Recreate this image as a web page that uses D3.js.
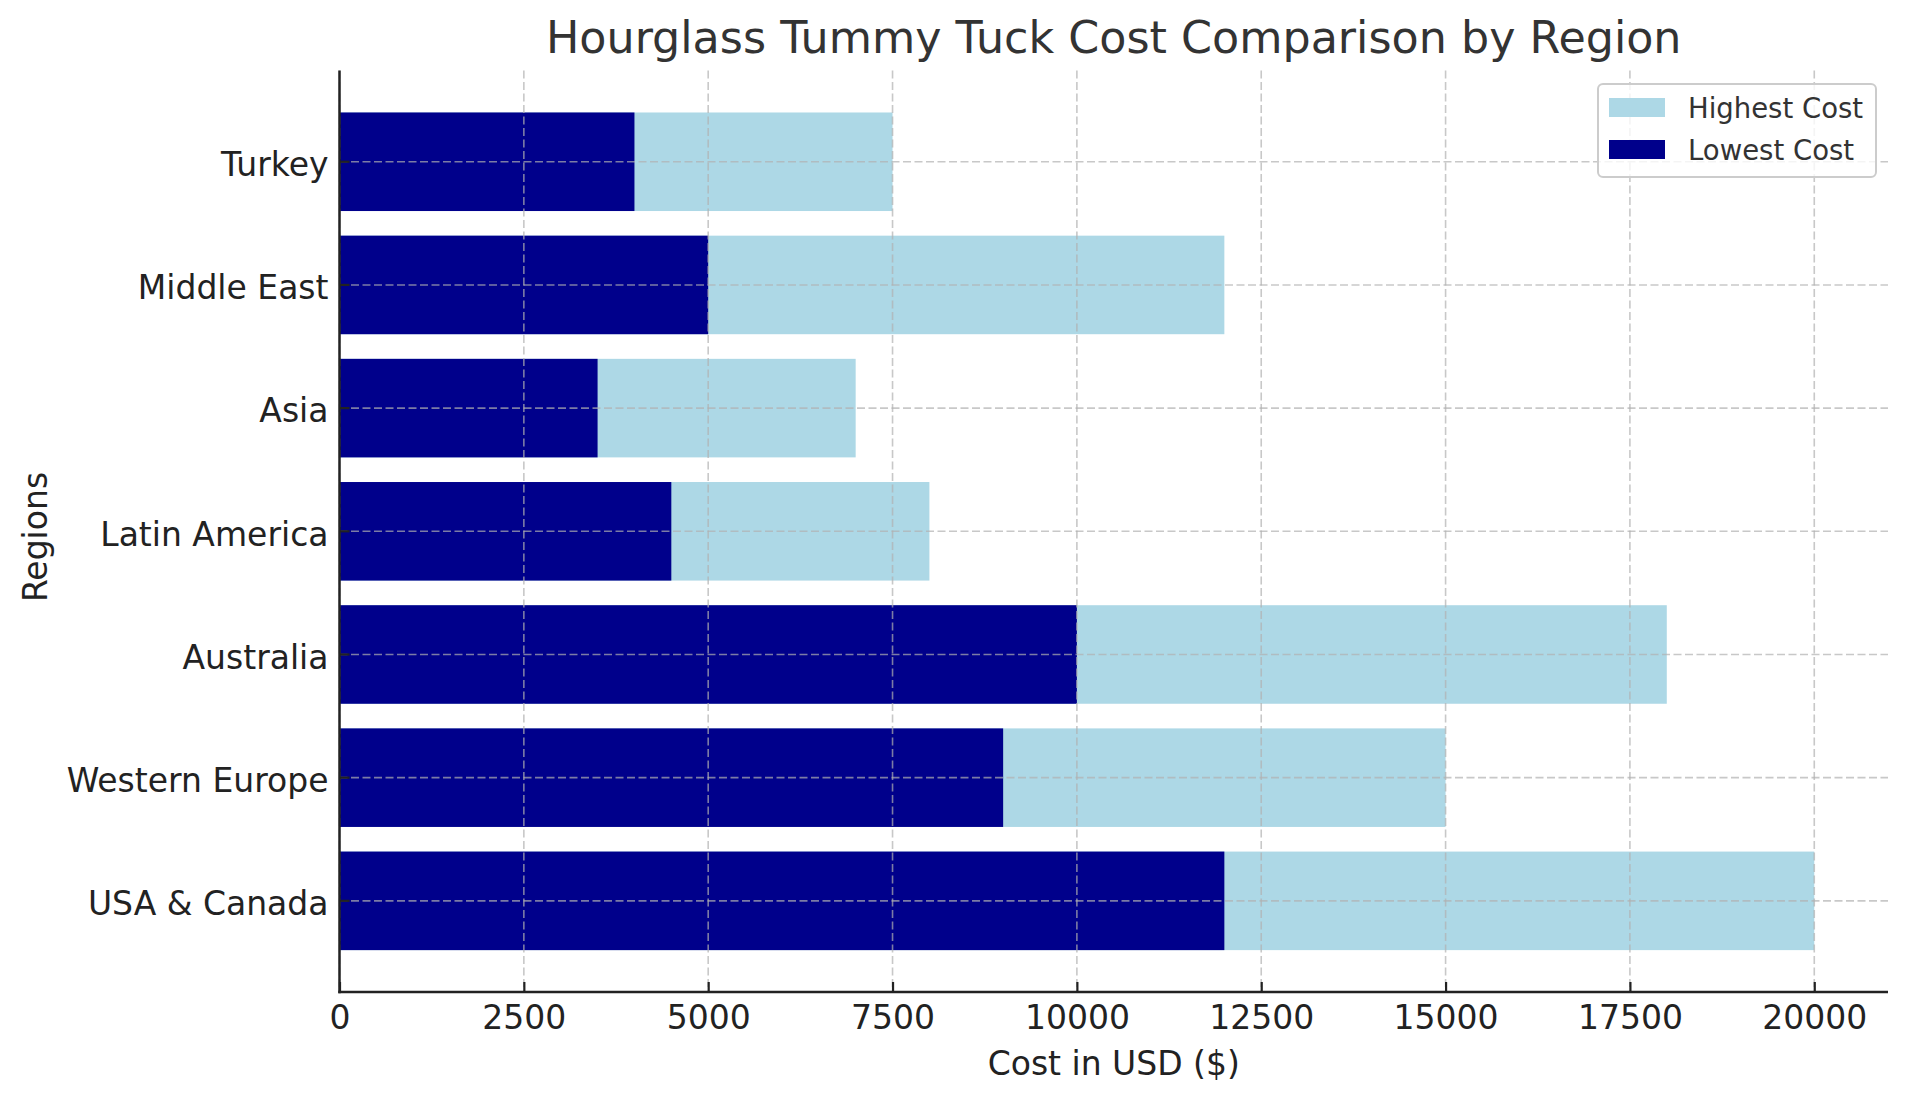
<html>
<head>
<style>
  body { margin: 0; background: #fff; }
  text { font-family: "DejaVu Sans", sans-serif; }
</style>
</head>
<body>
<svg id="chart" width="1908" height="1101"></svg>
<script src="https://cdn.jsdelivr.net/npm/d3@7"></script>
<script>
// data, bottom to top as plotted
const regions = ["USA & Canada", "Western Europe", "Australia", "Latin America", "Asia", "Middle East", "Turkey"]
const lowestCost = [12000, 9000, 10000, 4500, 3500, 5000, 4000]
const highestCost = [20000, 15000, 18000, 8000, 7000, 12000, 7500]
const xTicks = [0, 2500, 5000, 7500, 10000, 12500, 15000, 17500, 20000]
const seriesNames = ["Highest Cost", "Lowest Cost"]
const seriesColors = ["#add8e6", "#00008b"]

const rows = regions.map((r, i) => ({ region: r, low: lowestCost[i], high: highestCost[i] }))

const svg = d3.select("#chart")
const plotLeft = 339.5, plotRight = 1888, plotTop = 70.6, plotBottom = 992

let x = d3.scaleLinear().domain([0, 21000]).range([plotLeft, plotRight])
let y = d3.scaleBand()
  .domain(regions.slice().reverse())
  .range([plotTop, plotBottom])
  .paddingInner(0.2)
  .paddingOuter(0.34)

// bars
svg.append("g").selectAll("rect").data(rows)
  .enter().append("rect")
  .attr("x", x(0))
  .attr("y", d => y(d.region))
  .attr("width", d => x(d.high) - x(0))
  .attr("height", y.bandwidth())
  .attr("fill", seriesColors[0])

svg.append("g").selectAll("rect").data(rows)
  .enter().append("rect")
  .attr("x", x(0))
  .attr("y", d => y(d.region))
  .attr("width", d => x(d.low) - x(0))
  .attr("height", y.bandwidth())
  .attr("fill", seriesColors[1])

// grid (drawn above the bars, like the original)
let grid = svg.append("g")
  .attr("stroke", "#b0b0b0")
  .attr("stroke-opacity", 0.7)
  .attr("stroke-width", 1.6)
  .attr("stroke-dasharray", "8,3.5")
grid.selectAll(".vx").data(xTicks).enter().append("line")
  .attr("x1", d => x(d)).attr("x2", d => x(d))
  .attr("y1", plotTop).attr("y2", plotBottom)
grid.selectAll(".hy").data(regions).enter().append("line")
  .attr("x1", plotLeft).attr("x2", plotRight)
  .attr("y1", d => y(d) + y.bandwidth() / 2).attr("y2", d => y(d) + y.bandwidth() / 2)

// axes
let xAxis = svg.append("g")
  .attr("transform", `translate(0,${plotBottom})`)
  .call(d3.axisBottom(x).tickValues(xTicks).tickFormat(d3.format("d")).tickSizeInner(-10).tickSizeOuter(0).tickPadding(14))
xAxis.select(".domain").remove()
xAxis.selectAll(".tick line").attr("stroke", "#222").attr("stroke-width", 2.2)
xAxis.selectAll("text").attr("font-size", 33).attr("fill", "#222").attr("font-family", "DejaVu Sans")

let yAxis = svg.append("g")
  .attr("transform", `translate(${plotLeft},0)`)
  .call(d3.axisLeft(y).tickSizeInner(-10).tickSizeOuter(0).tickPadding(11))
yAxis.select(".domain").remove()
yAxis.selectAll(".tick line").attr("stroke", "#222").attr("stroke-width", 2.2)
yAxis.selectAll("text").attr("font-size", 33).attr("fill", "#222").attr("font-family", "DejaVu Sans")
  .attr("dy", "0.43em")

// spines: left and bottom only
svg.append("line").attr("x1", plotLeft).attr("x2", plotLeft).attr("y1", plotTop).attr("y2", plotBottom + 1.2)
  .attr("stroke", "#222").attr("stroke-width", 2.5)
svg.append("line").attr("x1", plotLeft - 1.2).attr("x2", plotRight).attr("y1", plotBottom).attr("y2", plotBottom)
  .attr("stroke", "#222").attr("stroke-width", 2.5)

// titles
svg.append("text")
  .attr("x", (plotLeft + plotRight) / 2).attr("y", 53)
  .attr("text-anchor", "middle")
  .attr("font-size", 44.4).attr("fill", "#333")
  .text("Hourglass Tummy Tuck Cost Comparison by Region")

svg.append("text")
  .attr("x", (plotLeft + plotRight) / 2).attr("y", 1074.5)
  .attr("text-anchor", "middle")
  .attr("font-size", 33).attr("fill", "#222")
  .text("Cost in USD ($)")

svg.append("text")
  .attr("transform", `translate(47,537) rotate(-90)`)
  .attr("text-anchor", "middle")
  .attr("font-size", 33).attr("fill", "#222")
  .text("Regions")

// legend
let legend = svg.append("g").attr("transform", "translate(1598,84)")
legend.append("rect")
  .attr("width", 278).attr("height", 93)
  .attr("rx", 5)
  .attr("fill", "#fff").attr("fill-opacity", 0.8)
  .attr("stroke", "#cccccc").attr("stroke-width", 2)
let items = legend.selectAll(".item").data(seriesNames).enter().append("g")
  .attr("transform", (d, i) => `translate(0,${14 + i * 42})`)
items.append("rect")
  .attr("x", 11).attr("width", 56).attr("height", 19)
  .attr("fill", (d, i) => seriesColors[i])
items.append("text")
  .attr("x", 90).attr("y", 20)
  .attr("font-size", 27.5).attr("fill", "#333")
  .text(d => d)
</script>
</body>
</html>
